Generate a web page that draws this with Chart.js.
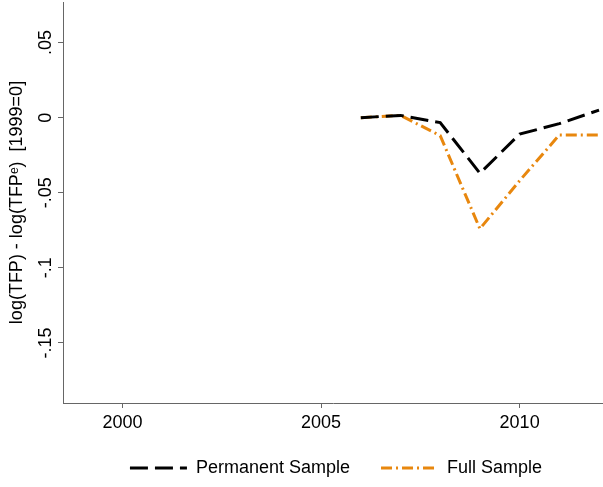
<!DOCTYPE html>
<html>
<head>
<meta charset="utf-8">
<script src="https://cdn.jsdelivr.net/npm/chart.js@4/dist/chart.umd.min.js"></script>
<style>
  html, body { margin: 0; padding: 0; background: #fff; }
  #wrap { width: 603px; height: 487px; }
</style>
</head>
<body>
<div id="wrap"><canvas id="chart-tfp"></canvas></div>
<script>
// data
const years = [2006, 2007, 2008, 2009, 2010, 2011, 2012];
const permanentSample = [0, 0.0015, -0.0033, -0.037, -0.011, -0.004, 0.005];
const fullSample = [0, 0.0015, -0.012, -0.074, -0.042, -0.0115, -0.0115];
const xTicks = [2000, 2005, 2010];
const yTicks = [-0.15, -0.1, -0.05, 0, 0.05];

const fontName = "'Liberation Sans', Arial, sans-serif";
const axisColor = "#666";

// stata style: .05, -.1
const fmtY = (v) => {
  if (v === 0) return "0";
  const s = String(Math.round(v * 1000) / 1000);
  return s.replace("0.", ".");
};

const ctx = document.getElementById("chart-tfp").getContext("2d");

// legend is centred on the plot region, not the whole canvas
const shiftLegend = {
  id: "shiftLegend",
  afterUpdate(chart) {
    chart.legend.left = 69;
  },
};

const tfpChart = new Chart(ctx, {
  type: "line",
  data: {
    datasets: [
      {
        label: "Permanent Sample",
        data: years.map((y, i) => ({ x: y, y: permanentSample[i] })),
        borderColor: "#000",
        backgroundColor: "#000",
        borderWidth: 3,
        borderDash: [18, 7],
        pointRadius: 0,
        tension: 0,
      },
      {
        label: "Full Sample",
        data: years.map((y, i) => ({ x: y, y: fullSample[i] })),
        borderColor: "#E8870E",
        backgroundColor: "#E8870E",
        borderWidth: 3,
        borderDash: [11, 4, 2, 4],
        pointRadius: 0,
        tension: 0,
      },
    ],
  },
  options: {
    responsive: true,
    maintainAspectRatio: false,
    animation: false,
    layout: { padding: { top: 2, left: 0, right: 0, bottom: 0 } },
    plugins: {
      tooltip: { enabled: false },
      legend: {
        position: "bottom",
        labels: {
          usePointStyle: true,
          pointStyle: "line",
          pointStyleWidth: 57,
          padding: 31,
          color: "#000",
          font: { family: fontName, size: 18 },
          // point style drops the dash, put it back from the dataset
          generateLabels: (chart) => {
            const items = Chart.defaults.plugins.legend.labels.generateLabels(chart);
            items.forEach((item) => {
              const ds = chart.data.datasets[item.datasetIndex];
              item.lineDash = ds.borderDash;
              item.lineWidth = 3;
              item.strokeStyle = ds.borderColor;
            });
            return items;
          },
        },
      },
    },
    scales: {
      x: {
        type: "linear",
        min: 1998.5,
        max: 2012.1,
        afterBuildTicks: (scale) => {
          scale.ticks = xTicks.map((v) => ({ value: v }));
        },
        afterFit: (scale) => {
          scale.height = 25;
          scale.paddingLeft = 0;
          scale.paddingRight = 0;
        },
        grid: { display: true, drawOnChartArea: false, drawTicks: true, tickLength: 5, color: axisColor },
        border: { display: true, color: axisColor, width: 1 },
        ticks: {
          color: "#000",
          padding: 4,
          maxRotation: 0,
          font: { family: fontName, size: 18 },
          callback: (v) => String(v),
        },
      },
      y: {
        type: "linear",
        min: -0.19,
        max: 0.077,
        afterBuildTicks: (scale) => {
          scale.ticks = yTicks.map((v) => ({ value: v }));
        },
        afterFit: (scale) => {
          scale.width = 63;
          scale.paddingTop = 0;
          scale.paddingBottom = 0;
        },
        grid: { display: true, drawOnChartArea: false, drawTicks: true, tickLength: 5, color: axisColor },
        border: { display: true, color: axisColor, width: 1 },
        ticks: {
          color: "#000",
          minRotation: 90,
          maxRotation: 90,
          crossAlign: "center",
          padding: -4,
          font: { family: fontName, size: 18 },
          callback: (v) => fmtY(v),
        },
        title: {
          display: true,
          text: "log(TFP) - log(TFP\u1D49)  [1999=0]",
          color: "#000",
          padding: { top: 6, bottom: 0 },
          font: { family: fontName, size: 18 },
        },
      },
    },
  },
  plugins: [shiftLegend],
});
</script>
</body>
</html>
